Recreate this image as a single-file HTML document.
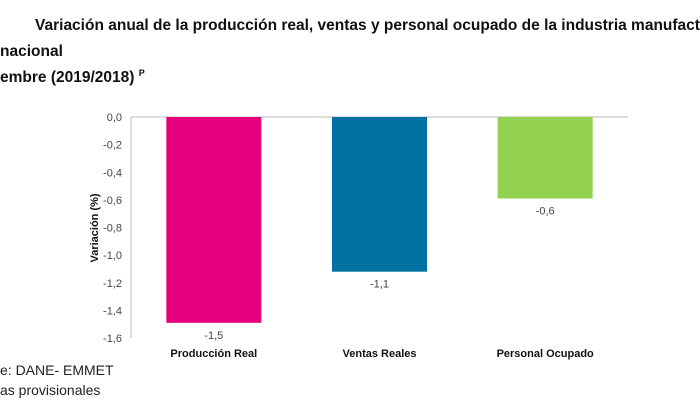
<!DOCTYPE html>
<html><head><meta charset="utf-8"><style>
body{margin:0;width:700px;height:420px;overflow:hidden;background:#fff;font-family:"Liberation Sans",sans-serif;position:relative;}
.t{position:absolute;font-weight:bold;font-size:15.5px;color:#111;white-space:nowrap;overflow:hidden;}
.f{position:absolute;font-size:14px;color:#222;white-space:nowrap;}
</style></head><body>
<div class="t" style="left:35px;top:17px;width:665px;">Variación anual de la producción real, ventas y personal ocupado de la industria manufacturera</div>
<div class="t" style="left:0px;top:43px;">nacional</div>
<div class="t" style="left:0px;top:68px;">embre (2019/2018) <sup style="font-size:9px">P</sup></div>
<svg id="c" width="700" height="420" style="position:absolute;left:0;top:0"></svg>
<div class="f" style="left:0px;top:362px;">e: DANE- EMMET</div>
<div class="f" style="left:0px;top:382px;">as provisionales</div>
<script>
const categories=["Producción Real","Ventas Reales","Personal Ocupado"];
const values=[-1.49,-1.12,-0.59];
const labels=["-1,5","-1,1","-0,6"];
const ticks=[0,-0.2,-0.4,-0.6,-0.8,-1.0,-1.2,-1.4,-1.6];
const colors=["#e6007e","#0071a0","#92d050"];
const svg=document.getElementById('c');const NS='http://www.w3.org/2000/svg';
const x0=131,x1=628,y0=117,y1=338;
const y=v=>y0+(0-v)/1.6*(y1-y0);
const bw=95,step=(x1-x0)/3;
const cx=i=>x0+step*(i+0.5);
function mk(t,a,txt){const e=document.createElementNS(NS,t);for(const k in a)e.setAttribute(k,a[k]);if(txt!=null)e.textContent=txt;svg.appendChild(e);return e;}
const ax=mk('line',{x1:x0,y1:y0,x2:x0,y2:y1,stroke:'#bbb'});


const bl=mk('line',{x1:x0,y1:y0,x2:x1,y2:y0,stroke:'#bbb'});


ticks.forEach(t=>{const e=mk('text',{x:x0-9,y:y(t)+4,'text-anchor':'end','font-size':11,fill:'#444'},t.toFixed(1).replace('.',','));

});
categories.forEach((c,i)=>{
const r=mk('rect',{x:cx(i)-bw/2,y:y0,width:bw,height:y(values[i])-y0,fill:colors[i]});


const l=mk('text',{x:cx(i),y:y(values[i])+16,'text-anchor':'middle','font-size':11,fill:'#444'},labels[i]);


const k=mk('text',{x:cx(i),y:357,'text-anchor':'middle','font-size':11,'font-weight':'bold',fill:'#111'},c);


});
const yt=mk('text',{x:0,y:0,transform:'translate(98,228) rotate(-90)','text-anchor':'middle','font-size':11,'font-weight':'bold',fill:'#111'},'Variación (%)');


</script>
</body></html>
